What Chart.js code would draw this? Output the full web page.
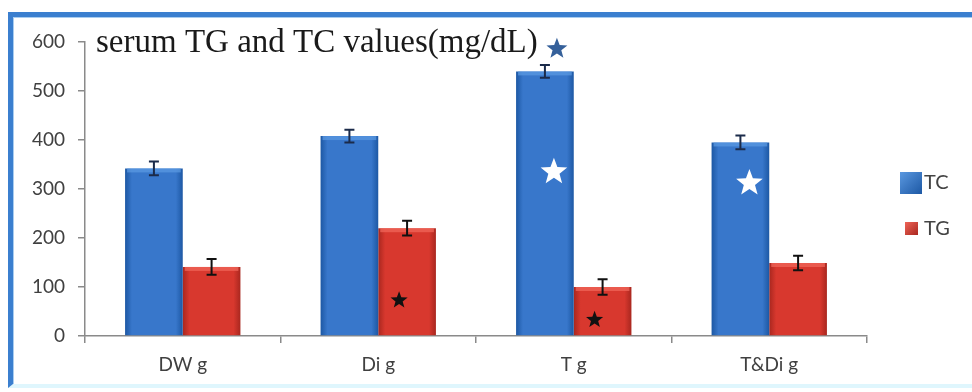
<!DOCTYPE html>
<html>
<head>
<meta charset="utf-8">
<script src="https://cdn.jsdelivr.net/npm/chart.js@4"></script>
<style>
  html, body { margin: 0; padding: 0; background: #fff; }
  #wrap { position: relative; width: 972px; height: 392px; overflow: hidden; }
  #frame {
    position: absolute; left: 8px; top: 12px; width: 964px; height: 376px;
    box-sizing: border-box;
    border-left: 5px solid #3b7fcf; border-top: 5px solid #3b7fcf;
    border-bottom: 4px solid #dff6fd;
    box-shadow: inset 1px 1px 0 #a9cdf0;
  }
  #myChart { position: absolute; left: 0; top: 0; }
</style>
</head>
<body>
<div id="wrap">
  <div id="frame"></div>
  <canvas id="myChart" width="972" height="392"></canvas>
</div>
<script>
const titleText = 'serum TG and TC values(mg/dL)';
const categories = ['DW g', 'Di g', 'T g', 'T&Di g'];
const seriesNames = ['TC', 'TG'];
const tcValues = [342, 408, 540, 395];
const tcErrors = [14, 13, 13, 14];
const tgValues = [141, 220, 100, 149];
const tgErrors = [16, 15, 16, 15];
const yTicks = [0, 100, 200, 300, 400, 500, 600];

// significance stars: which bar, and the y value where the star sits
const starSeries = ['TC', 'TC', 'TC', 'TG', 'TG'];
const starCats = ['T g', 'T g', 'T&Di g', 'Di g', 'T g'];
const starValues = [586, 335, 312, 73, 33];
const starKinds = ['above', 'inside', 'inside', 'dark', 'dark'];

const palette = [
    { mid: '#3877cb', edge: '#1d58a4', light: '#5a98e0', top: '#5d9be3', err: '#1b2b4a' },
    { mid: '#d8382e', edge: '#a9271f', light: '#ef6457', top: '#f26a5c', err: '#111111' }
];
const starStyle = {
    above: { color: '#35609a', r: 11, dx: 12 },
    inside: { color: '#ffffff', r: 14, dx: 9 },
    dark: { color: '#111111', r: 9, dx: -8 }
};
const catPct = 0.59;

function barFill(c) {
    const chart = c.chart, xs = chart.scales.x;
    const col = palette[c.datasetIndex];
    if (!xs || c.dataIndex === undefined) return col.mid;
    const full = (xs.right - xs.left) / categories.length * catPct;
    const center = xs.getPixelForValue(c.dataIndex);
    if (!isFinite(full) || !isFinite(center) || full <= 0) return col.mid;
    const x0 = c.datasetIndex === 0 ? center - full / 2 : center;
    const g = chart.ctx.createLinearGradient(x0, 0, x0 + full / 2, 0);
    g.addColorStop(0, col.edge);
    g.addColorStop(0.12, col.mid);
    g.addColorStop(0.88, col.mid);
    g.addColorStop(1, col.edge);
    return g;
}

function drawStar(ctx, cx, cy, r, color) {
    ctx.save();
    ctx.beginPath();
    for (let i = 0; i < 10; i++) {
        const rad = i % 2 === 0 ? r : r * 0.42;
        const a = -Math.PI / 2 + i * Math.PI / 5;
        const px = cx + rad * Math.cos(a), py = cy + rad * Math.sin(a);
        if (i === 0) ctx.moveTo(px, py); else ctx.lineTo(px, py);
    }
    ctx.closePath();
    ctx.fillStyle = color;
    ctx.fill();
    ctx.restore();
}

const errorBars = {
    id: 'errorBars',
    afterDatasetsDraw(chart) {
        const ctx = chart.ctx, y = chart.scales.y;
        const errs = [tcErrors, tgErrors];
        chart.data.datasets.forEach((ds, di) => {
            chart.getDatasetMeta(di).data.forEach((el, i) => {
                // light bevel along the top of each bar
                ctx.save();
                ctx.fillStyle = palette[di].top;
                ctx.globalAlpha = 0.7;
                ctx.fillRect(el.x - el.width / 2 + 2, el.y, el.width - 4, 4);
                ctx.restore();

                const v = ds.data[i], e = errs[di][i];
                const top = y.getPixelForValue(v + e), bot = y.getPixelForValue(v - e);
                ctx.save();
                ctx.strokeStyle = palette[di].err;
                ctx.lineWidth = 2;
                ctx.beginPath();
                ctx.moveTo(el.x, top); ctx.lineTo(el.x, bot);
                ctx.moveTo(el.x - 5, top); ctx.lineTo(el.x + 5, top);
                ctx.moveTo(el.x - 5, bot); ctx.lineTo(el.x + 5, bot);
                ctx.stroke();
                ctx.restore();
            });
        });
        // stars
        starValues.forEach((v, k) => {
            const di = seriesNames.indexOf(starSeries[k]);
            const i = categories.indexOf(starCats[k]);
            const el = chart.getDatasetMeta(di).data[i];
            const st = starStyle[starKinds[k]];
            drawStar(ctx, el.x + st.dx, y.getPixelForValue(v), st.r, st.color);
        });
    }
};

const chartTitle = {
    id: 'chartTitle',
    afterDraw(chart) {
        const ctx = chart.ctx;
        ctx.save();
        ctx.font = '33px "Liberation Serif", "Times New Roman", serif';
        ctx.fillStyle = '#1a1a1a';
        ctx.textBaseline = 'alphabetic';
        ctx.fillText(titleText, 96, 52);
        ctx.restore();
    }
};

const sideLegend = {
    id: 'sideLegend',
    afterDraw(chart) {
        const ctx = chart.ctx;
        const boxes = [{ x: 900, y: 172, s: 22 }, { x: 905, y: 222, s: 13 }];
        const textY = [183, 229];
        chart.data.datasets.forEach((ds, di) => {
            const b = boxes[di], col = palette[di];
            const g = ctx.createLinearGradient(b.x, b.y, b.x + b.s, b.y + b.s);
            g.addColorStop(0, col.light);
            g.addColorStop(1, col.edge);
            ctx.save();
            ctx.fillStyle = g;
            ctx.fillRect(b.x, b.y, b.s, b.s);
            ctx.font = '20px Lato, sans-serif';
            ctx.fillStyle = '#444';
            ctx.textBaseline = 'middle';
            ctx.fillText(ds.label, 924, textY[di]);
            ctx.restore();
        });
    }
};

document.addEventListener("DOMContentLoaded", function () {
    const ctx = document.getElementById('myChart');
    new Chart(ctx, {
        type: 'bar',
        data: {
            labels: categories,
            datasets: [{
                label: seriesNames[0],
                data: tcValues,
                backgroundColor: barFill,
                categoryPercentage: catPct,
                barPercentage: 1
            }, {
                label: seriesNames[1],
                data: tgValues,
                backgroundColor: barFill,
                categoryPercentage: catPct,
                barPercentage: 1
            }]
        },
        options: {
            responsive: false,
            animation: false,
            layout: { padding: { top: 42, right: 105, bottom: 0, left: 0 } },
            plugins: {
                legend: { display: false },
                tooltip: { enabled: false }
            },
            scales: {
                x: {
                    grid: { display: true, drawOnChartArea: false, offset: true, tickLength: 7, color: '#8a8a8a', lineWidth: 1.5 },
                    border: { color: '#8a8a8a', width: 1.5 },
                    ticks: { font: { family: 'Lato', size: 19 }, color: '#404040', padding: 10 },
                    afterFit(scale) { scale.height = 56; }
                },
                y: {
                    min: 0,
                    max: 600,
                    afterBuildTicks(scale) { scale.ticks = yTicks.map(v => ({ value: v })); },
                    grid: { display: true, drawOnChartArea: false, tickLength: 7, color: '#8a8a8a', lineWidth: 1.5 },
                    border: { color: '#8a8a8a', width: 1.5 },
                    ticks: { font: { family: 'Lato', size: 19 }, color: '#404040', padding: 13 },
                    afterFit(scale) { scale.width = 85; }
                }
            }
        },
        plugins: [errorBars, chartTitle, sideLegend]
    });
});
</script>
</body>
</html>
